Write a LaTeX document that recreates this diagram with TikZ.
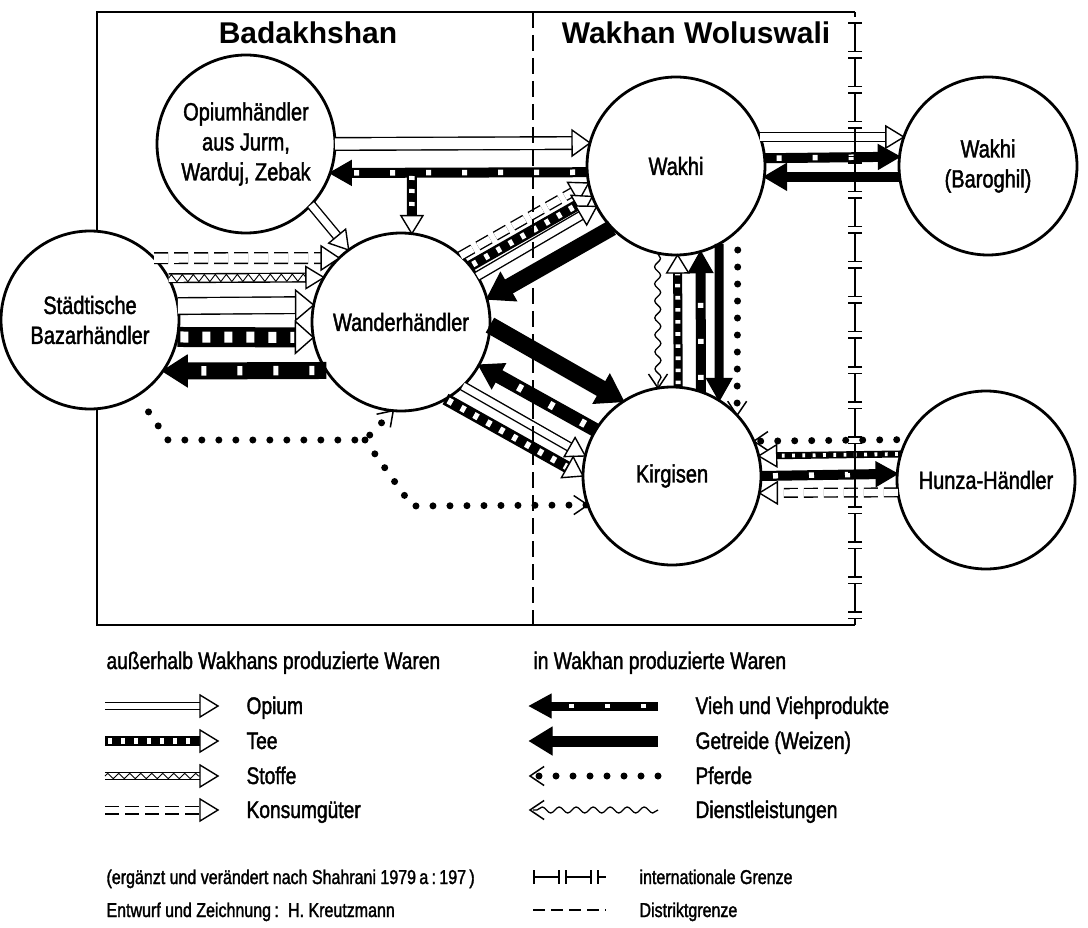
\documentclass[tikz,border=0pt]{standalone}
\usepackage{fontspec}
\setmainfont{Liberation Sans}
\newfontfamily\condfont{Liberation Sans}[FakeStretch=0.8, FakeBold=1.6]
\usetikzlibrary{arrows.meta, calc, decorations.pathmorphing}

\newcommand{\headtri}[5]{%
  \coordinate (hb) at ($(#5)!#2pt!(#4)$);
  \filldraw[fill=#1, line width=1.4pt, line join=miter] (#5) -- ($(hb)!#3pt!90:(#5)$) -- ($(hb)!#3pt!-90:(#5)$) -- cycle;}
\newcommand{\vhead}[2]{\draw[line width=1.5pt] ($(#2)!17pt!34:(#1)$) -- (#2) -- ($(#2)!17pt!-34:(#1)$);}

\newcommand{\opiarrow}[3][8]{%
  \pgfmathsetmacro\ainn{#1-2.8}\pgfmathsetmacro\ahw{max(11,#1/2+6)}%
  \draw[line width=1.4pt, double distance=\ainn pt, shorten >=17pt] (#2) -- (#3);
  \headtri{white}{18}{\ahw}{#2}{#3}}
\newcommand{\teearrow}[3][10]{%
  \pgfmathsetmacro\ahw{max(11,#1/2+6)}\pgfmathsetmacro\asq{0.55*#1}%
  \pgfmathsetmacro\aon{0.4*#1}\pgfmathsetmacro\aoff{0.5*#1+4}\pgfmathsetmacro\aph{\aon+\aoff-3}%
  \draw[line width=#1pt, shorten >=17pt] (#2) -- (#3);
  \draw[white, line width=\asq pt, dash pattern=on \aon pt off \aoff pt, dash phase=\aph pt, shorten >=19pt] (#2) -- (#3);
  \headtri{white}{18}{\ahw}{#2}{#3}}
\newcommand{\stoarrow}[3][9]{%
  \pgfmathsetmacro\ainn{#1-2.8}\pgfmathsetmacro\aamp{#1/2-1.4}%
  \coordinate (sb) at ($(#3)!17pt!(#2)$);
  \draw[line width=1.4pt, double distance=\ainn pt] (#2) -- (sb);
  \draw[line width=0.9pt, decorate, decoration={zigzag, amplitude=\aamp pt, segment length=11pt}] (#2) -- (sb);
  \headtri{white}{18}{11}{#2}{#3}}
\newcommand{\konarrow}[3][9]{%
  \pgfmathsetmacro\ainn{#1-2.8}\pgfmathsetmacro\ahw{max(11,#1/2+6)}%
  \draw[line width=1.4pt, double distance=\ainn pt, dash pattern=on 14pt off 6pt, shorten >=17pt] (#2) -- (#3);
  \headtri{white}{18}{\ahw}{#2}{#3}}
\newcommand{\viearrow}[3][10]{%
  \pgfmathsetmacro\alen{max(21,0.6*#1+14)}\pgfmathsetmacro\aback{\alen-1}%
  \pgfmathsetmacro\ahw{#1/2+7}\pgfmathsetmacro\asq{0.55*#1}%
  \draw[line width=#1pt, shorten >=\aback pt] (#2) -- (#3);
  \draw[white, line width=\asq pt, dash pattern=on 5pt off 31pt, dash phase=24pt, shorten >=\alen pt] (#2) -- (#3);
  \headtri{black}{\alen}{\ahw}{#2}{#3}}
\newcommand{\getarrow}[3][12]{%
  \pgfmathsetmacro\alen{max(22,0.6*#1+15)}\pgfmathsetmacro\aback{\alen-1}\pgfmathsetmacro\ahw{#1/2+8}%
  \draw[line width=#1pt, shorten >=\aback pt] (#2) -- (#3);
  \headtri{black}{\alen}{\ahw}{#2}{#3}}

\begin{document}
\begin{tikzpicture}[x=1pt, y=-1pt,
  market/.style={circle, draw, line width=2.8pt, fill=white, minimum size=178pt, inner sep=0pt, outer sep=0pt, align=center, font=\condfont\fontsize{25}{30}\selectfont},
  regiontitle/.style={anchor=base, font=\bfseries\fontsize{30}{36}\selectfont},
  legtext/.style={anchor=base west, font=\condfont\fontsize{24}{28}\selectfont},
  srctext/.style={anchor=base west, font=\condfont\fontsize{20}{24}\selectfont},
  pferd/.style={line width=7pt, line cap=round, dash pattern=on 0pt off 17pt},
  dienst/.style={line width=1.3pt, decorate, decoration={snake, amplitude=3pt, segment length=17pt}},
  bordseg/.style={line width=2.5pt, {Bar[width=14pt, line width=1.6pt]}-{Bar[width=14pt, line width=1.6pt]}}]
\useasboundingbox (0,0) rectangle (1088,928);
\draw[line width=2.5pt] (855,12) -- (97,12) -- (97,625) -- (855,625);

\node[regiontitle] (tbad) at (308,44) {Badakhshan};
\node[regiontitle] (twak) at (696,44) {Wakhan Woluswali};

\node[market] (opi) at (246,144) {Opiumhändler\\aus Jurm,\\Warduj, Zebak};
\node[market] (baz) at (90,320) {Städtische\\Bazarhändler};
\node[market] (wan) at (401,322) {Wanderhändler};
\node[market] (wak) at (676,166) {Wakhi};
\node[market] (bar) at (988,166) {Wakhi\\(Baroghil)};
\node[market] (kir) at (672,476) {Kirgisen};
\node[market] (hun) at (986,480) {Hunza-Händler};

% Opiumhaendler - Wakhi
\opiarrow[14]{opi.0}{wak.165.7}
\viearrow[10]{wak.184.5}{opi.-19}
\coordinate (tbr) at (412,173);
\teearrow[10]{tbr}{wan.83}
\opiarrow[10]{opi.-43}{wan.126}

% Bazar - Wanderhaendler
\konarrow[12]{baz.44.2}{wan.134}
\stoarrow[10]{baz.28.2}{wan.150.4}
\opiarrow[18]{baz.9}{wan.169.6}
\teearrow[20]{baz.-11.7}{wan.190.4}
\viearrow[17]{wan.213.4}{baz.-35}

% Wanderhaendler - Wakhi
\konarrow[10]{wan.48}{wak.191.4}
\teearrow[11]{wan.39.4}{wak.200}
\opiarrow[10]{wan.31.6}{wak.207.8}
\getarrow[16]{wak.224}{wan.15.4}

% Wanderhaendler - Kirgisen
\getarrow[17]{wan.-2.9}{kir.123.7}
\viearrow[14]{kir.149.8}{wan.-29}
\opiarrow[10]{wan.-46.6}{kir.167.4}
\teearrow[12]{wan.-60}{kir.180.8}

% Wakhi - Kirgisen
\draw[dienst] (wak.-102.3) -- (kir.99.7);
\vhead{wak.-102.3}{kir.99.7}
\teearrow[9]{kir.86.8}{wak.-89.4}
\viearrow[10]{kir.71.7}{wak.-74.4}
\getarrow[9]{wak.-61.1}{kir.58.1}
\draw[pferd, shorten <=20pt] (wak.-46.7) -- (kir.43.1);
\vhead{wak.-46.7}{kir.43.1}

% Wakhi - Baroghil
\opiarrow[10]{wak.19}{bar.161}
\viearrow[10]{wak.5.8}{bar.174.2}
\getarrow[10]{bar.187.7}{wak.-7.7}

% Kirgisen - Hunza
\draw[pferd, shorten <=10pt] (hun.153.3) -- (kir.23.9);
\vhead{hun.153.3}{kir.23.9}
\teearrow[7]{hun.163.7}{kir.13.6}
\viearrow[10]{kir.0.6}{hun.176.8}
\konarrow[10]{hun.188.4}{kir.-11}

% Pferde nach Westen
\coordinate (p1) at (168,440);
\coordinate (p2) at (365,440);
\coordinate (p3) at (412,506);
\draw[pferd, shorten <=20pt] (baz.-58) -- (p1) -- (p2) -- (wan.-95);
\vhead{p2}{wan.-95}
\draw[pferd] (p2) -- (p3) -- (kir.199.7);
\vhead{p3}{kir.199.7}

% Grenzen
\draw[line width=1.6pt, dash pattern=on 16pt off 7pt] (533,12) -- (533,625);
\draw[line width=2.5pt] (855,12) -- (855,17.5);
\foreach \y in {20,55,...,580}
  \draw[bordseg] (855,\y+2.5) -- (855,\y+32.5);
\draw[line width=2.5pt, {Bar[width=14pt, line width=1.6pt]}-] (855,617.5) -- (855,625);

% Legende
\node[legtext] (hout) at (103,669) {außerhalb Wakhans produzierte Waren};
\node[legtext] (hin) at (530,669) {in Wakhan produzierte Waren};
\opiarrow[8]{105,706}{218,706}
\teearrow[10]{105,741}{218,741}
\stoarrow[8]{105,776}{218,776}
\konarrow[9]{105,810}{218,810}
\viearrow[9]{658,706}{530,706}
\getarrow[11]{658,741}{530,741}
\draw[pferd] (658,776) -- (533,776);
\vhead{658,776}{530,776}
\draw[dienst] (658,810) -- (533,810);
\vhead{658,810}{530,810}
\foreach \y/\t in {706/Opium, 741/Tee, 776/Stoffe, 810/Konsumgüter}
  \node[legtext] (lo\y) at (243,\y+8) {\t};
\foreach \y/\t in {706/Vieh und Viehprodukte, 741/Getreide (Weizen), 776/Pferde, 810/Dienstleistungen}
  \node[legtext] (li\y) at (692,\y+8) {\t};

\node[srctext] (src) at (103,884) {(ergänzt und verändert nach Shahrani 1979\,a\,:\,197\,)};
\node[srctext] (auth) at (103,917) {Entwurf und Zeichnung\,:\, H. Kreutzmann};
\foreach \x in {533,565}
  \draw[bordseg] (\x,877) -- (\x+27,877);
\draw[line width=2.5pt, {Bar[width=14pt, line width=1.6pt]}-] (597,877) -- (606,877);
\draw[line width=1.6pt, dash pattern=on 12pt off 6pt] (533,910) -- (606,910);
\node[srctext] (lgi) at (636,884) {internationale Grenze};
\node[srctext] (lgd) at (636,917) {Distriktgrenze};
\end{tikzpicture}
\end{document}
